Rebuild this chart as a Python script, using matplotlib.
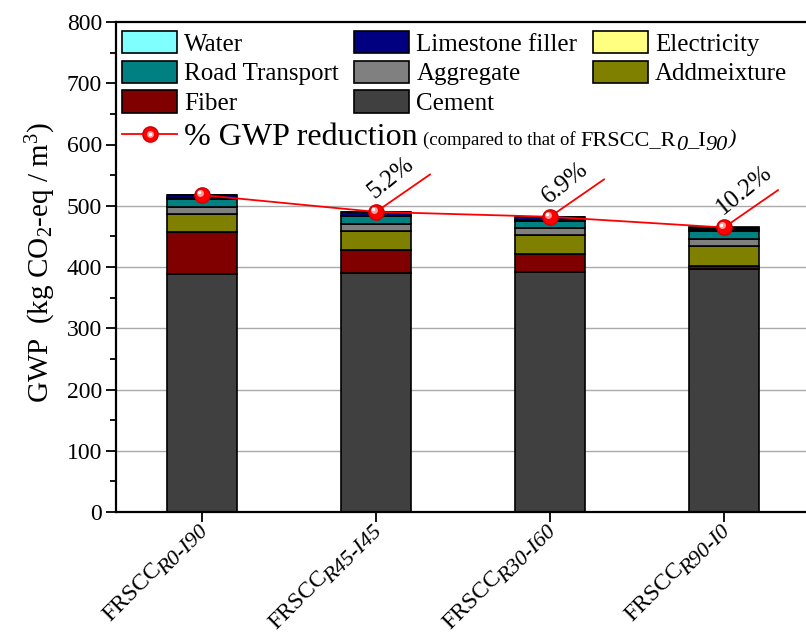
import numpy as np
import matplotlib
matplotlib.use("Agg")
import matplotlib.pyplot as plt
from matplotlib.transforms import ScaledTranslation

plt.rcParams['font.family'] = ['Liberation Serif', 'DejaVu Serif']
plt.rcParams['mathtext.fontset'] = 'custom'
plt.rcParams['mathtext.rm'] = 'Liberation Serif'
plt.rcParams['mathtext.it'] = 'Liberation Serif:italic'
plt.rcParams['mathtext.bf'] = 'Liberation Serif:bold'

# ---- data ----
categories = ["R0\u2010I90", "R45\u2010I45", "R30\u2010I60", "R90\u2010I0"]
cement      = [388.0, 390.0, 392.0, 396.0]
fiber       = [68.5, 38.0, 28.5, 5.5]
admixture   = [30.0, 31.0, 31.0, 33.0]
aggregate   = [12.0, 11.0, 11.5, 11.0]
road        = [12.0, 12.5, 12.5, 13.5]
electricity = [1.5, 1.5, 1.5, 1.5]
limestone   = [5.0, 5.5, 4.5, 3.5]
water       = [0.5, 0.5, 0.5, 0.5]
reduction_labels = ["", "5.2%", "6.9%", "10.2%"]
yticks = [0, 100, 200, 300, 400, 500, 600, 700, 800]

components = [
    ("Cement", cement, "#404040"),
    ("Fiber", fiber, "#800000"),
    ("Addmeixture", admixture, "#808000"),
    ("Aggregate", aggregate, "#808080"),
    ("Road Transport", road, "#008080"),
    ("Electricity", electricity, "#FFFF80"),
    ("Limestone filler", limestone, "#000080"),
    ("Water", water, "#80FFFF"),
]

fig = plt.figure(figsize=(8.06, 6.35), dpi=100)
ax = fig.add_axes([116/806, 1-512/635, (810-116)/806, 490/635])
renderer = fig.canvas.get_renderer()

x = np.arange(len(categories))
bottom = np.zeros(len(categories))
bars = {}
for name, vals, col in components:
    b = ax.bar(x, vals, 0.4, bottom=bottom, color=col, edgecolor='black',
               linewidth=1.2, zorder=2, label=name)
    bars[name] = b
    bottom = bottom + np.array(vals)
totals = bottom

for yv in yticks[1:6]:
    ax.axhline(yv, color='#aaaaaa', lw=1.0, zorder=0)

# line with spheres
line, = ax.plot(x, totals, color='red', lw=1.3, marker='o', markersize=11,
                markerfacecolor='#ff0000', markeredgecolor='#d00000', zorder=5)
off = ScaledTranslation(-1.5/72, 1.5/72, fig.dpi_scale_trans)
hl, = ax.plot(x, totals, ls='none', marker='o', markersize=5,
              markerfacecolor='#ff9a9a', markeredgecolor='none', zorder=6,
              transform=ax.transData + off)
off2 = ScaledTranslation(-2/72, 2/72, fig.dpi_scale_trans)
hl2, = ax.plot(x, totals, ls='none', marker='o', markersize=2.5,
               markerfacecolor='white', markeredgecolor='none', zorder=7,
               transform=ax.transData + off2)

for xi, ti, lab in zip(x, totals, reduction_labels):
    if not lab:
        continue
    ax.annotate('', xy=(xi, ti), xytext=(39, 27), textcoords='offset points',
                arrowprops=dict(arrowstyle='-', color='red', lw=1.3,
                                shrinkA=0, shrinkB=0), zorder=4)
    ax.annotate(lab, xy=(xi, ti), xytext=(-1, 9), textcoords='offset points',
                rotation=39, rotation_mode='anchor', ha='left', va='baseline',
                fontsize=18, zorder=8)

ax.set_xlim(-0.494, 3.494)
ax.set_ylim(0, 800)
ax.set_yticks(yticks)
ax.set_yticks(np.arange(50, 800, 100), minor=True)
ax.tick_params(axis='y', which='major', direction='out', length=7, width=1.3,
               labelsize=17, pad=3)
ax.tick_params(axis='y', which='minor', direction='out', length=4, width=1.3)
ax.tick_params(axis='y', which='both', right=True)
ax.set_xticks(x)
ax.set_xticklabels([])
ax.tick_params(axis='x', direction='out', length=7, width=1.3)
for s in ax.spines.values():
    s.set_linewidth(1.6)

# x tick labels: "FRSCC" + large italic lowered subscript
c45 = np.cos(np.radians(45))
main_fs, sub_fs = 17, 16
raise_pt = 5.0
gap_pt = -2.0
end_off = (5.0, -15.0)
for xi, c in zip(x, categories):
    ax.annotate(c, xy=(xi, 0), xycoords=('data', 'axes fraction'),
                xytext=end_off, textcoords='offset points', rotation=45,
                rotation_mode='anchor', ha='right', va='baseline',
                fontsize=sub_fs, fontstyle='italic', annotation_clip=False)
    tmp = fig.text(0, 0, c, fontsize=sub_fs, fontstyle='italic')
    w = tmp.get_window_extent(renderer).width * 72 / fig.dpi + gap_pt
    tmp.remove()
    mx = end_off[0] - w * c45 - raise_pt * c45
    my = end_off[1] - w * c45 + raise_pt * c45
    ax.annotate("FRSCC", xy=(xi, 0), xycoords=('data', 'axes fraction'),
                xytext=(mx, my), textcoords='offset points', rotation=45,
                rotation_mode='anchor', ha='right', va='baseline',
                fontsize=main_fs, annotation_clip=False)

ax.set_ylabel("GWP  (kg CO$_2$-eq / m$^3$)", fontsize=21)
ax.yaxis.set_label_coords(-0.084, 0.51)

order = ["Water", "Road Transport", "Fiber", "Limestone filler", "Aggregate",
         "Cement", "Electricity", "Addmeixture"]
leg1 = ax.legend([bars[n] for n in order], order, ncol=3, loc='upper left',
                 bbox_to_anchor=(0.0087, 0.982), frameon=True, fontsize=18,
                 handlelength=2.2, handleheight=1.0, handletextpad=0.28,
                 columnspacing=0.62, labelspacing=0.2, borderpad=0,
                 borderaxespad=0, fancybox=False)
leg1.get_frame().set_edgecolor('none')
leg1.set_zorder(10)
ax.add_artist(leg1)

leg2 = ax.legend([(line, hl, hl2)], ["% GWP reduction"], loc='center left',
                 bbox_to_anchor=(0.0087, 1-(137-22)/490), frameon=False,
                 fontsize=23, handlelength=1.72, handletextpad=0.22,
                 borderpad=0, borderaxespad=0)
leg2.set_zorder(10)

pieces = [("(compared to that of ", 13.5, 'normal', 4, 2.0),
          ("FRSCC_R", 16, 'normal', 0, -0.5),
          ("0", 16, 'italic', 0, -4.0),
          ("_I", 16, 'normal', 0, 4.0),
          ("90", 16, 'italic', 0, -4.0),
          (")", 16, 'italic', 0, 4.0)]
prev = leg2.get_texts()[0]
for txt, fs, sty, dx, dy in pieces:
    prev = ax.annotate(txt, xy=(1, 0), xycoords=prev, xytext=(dx, dy),
                       textcoords='offset points', ha='left', va='bottom',
                       fontsize=fs, fontstyle=sty, zorder=11)

fig.savefig("out.png", dpi=100)
